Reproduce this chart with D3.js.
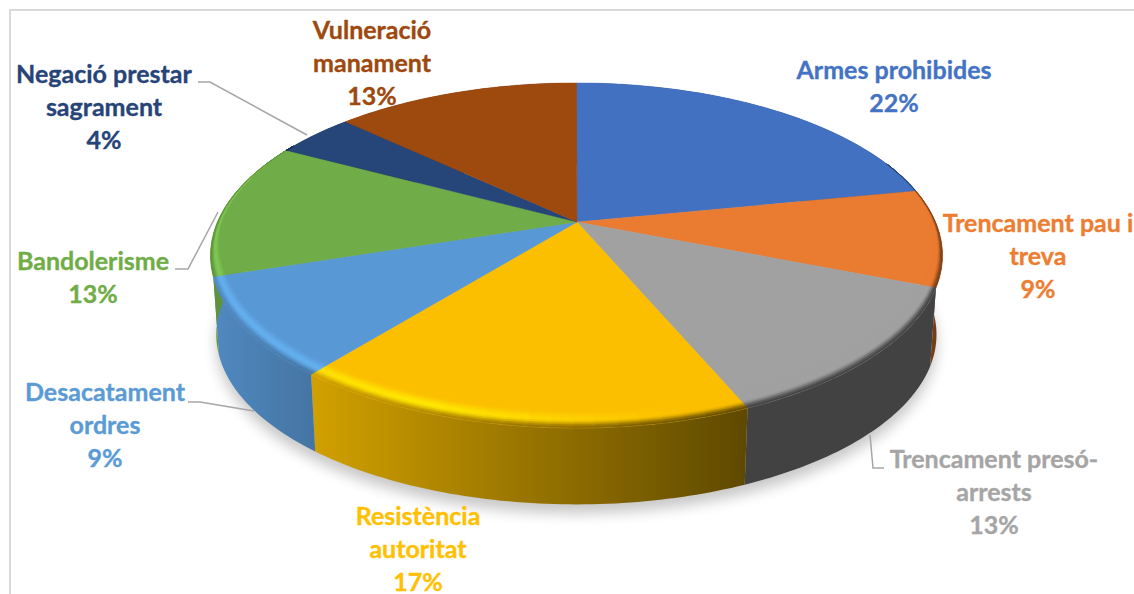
<!DOCTYPE html>
<html><head><meta charset="utf-8">
<script src="https://cdn.jsdelivr.net/npm/d3@7/dist/d3.min.js"></script>
<style>html,body{margin:0;padding:0;background:#fff;overflow:hidden}svg{display:block}</style>
</head><body><svg id="c" width="1134" height="594"></svg>
<script>
const categories = ["Armes prohibides","Trencament pau i treva","Trencament presó-arrests","Resistència autoritat","Desacatament ordres","Bandolerisme","Negació prestar sagrament","Vulneració manament"];
const values = [21.9,9.1,12.6,17.2,9.2,12.8,4.2,13];
const colors = ["#4371C2","#EA7B31","#A1A1A1","#FBBF00","#5998D5","#6FAC47","#264478","#9E480E"];
const labelColors = ["#4472C4","#ED7D31","#A5A5A5","#FFC000","#5B9BD5","#70AD47","#264478","#9E480E"];
const highlights = ["#4371C2","#EA7B31","#A1A1A1","#FFE800","#68B6F6","#84D05A","#264478","#9E480E"];
const labelLines = [["Armes prohibides"],["Trencament pau i","treva"],["Trencament presó-","arrests"],["Resistència","autoritat"],["Desacatament","ordres"],["Bandolerisme"],["Negació prestar","sagrament"],["Vulneració","manament"]];

// layout (not data)
const labelAnchor = [[894,79],[1038,232],[994,468],[418,525],[105,401],[93,270],[104,83],[372,39]];
const leaders = [null,null,[[870,435],[873,468],[884,468]],null,[[188,402],[200,402],[254,411]],[[175,269],[188,269],[218,212]],[[198,82],[210,82],[307,135]],null];
const P = {cx:576.5, R:359, apexY:222, a:123, c:-0.194, vx:570, vy:5200, k:0.984};

const svg = d3.select("#c");
const defs = svg.append("defs");
defs.append("filter").attr("id","sh").attr("x","-10%").attr("y","-10%").attr("width","120%").attr("height","130%")
  .append("feGaussianBlur").attr("stdDeviation",7);
defs.append("filter").attr("id","soft").attr("filterUnits","userSpaceOnUse").attr("x",0).attr("y",0).attr("width",1134).attr("height",594)
  .append("feGaussianBlur").attr("stdDeviation",0.7);

svg.append("rect").attr("x",10).attr("y",10).attr("width",1300).attr("height",800)
  .attr("fill","#fff").attr("stroke","#d9d9d9").attr("stroke-width",2);

const rad = Math.PI/180;
function topPt(th,r=1){
  const s=Math.sin(th)*r, t=-Math.cos(th)*r, d=1+P.c*t;
  return [P.cx+P.R*s/d,(P.a*t+P.apexY)/d];
}
function botPt(th,r=1){
  const [x,y]=topPt(th,r);
  return [P.vx+(x-P.vx)*P.k,P.vy-(P.vy-y)*P.k];
}
const line=d3.line();
const pie=d3.pie().sort(null).value(d=>d)(values);
const sweep=(a,b,step)=>{const n=Math.max(1,Math.ceil((b-a)/step));return d3.range(n+1).map(i=>a+(b-a)*i/n);};
const clamp=d3.scaleLinear().clamp(true);
const smooth=u=>u*u*(3-2*u);

// wall shade by screen x, per slice
const wallShade=[
  {x:[200,950],f:[0.5,0.5]}, {x:[200,950],f:[0.5,0.5]}, {x:[200,950],f:[0.41,0.41]},
  {x:[316,745],f:[0.83,0.38]},
  {x:[215,316],f:[0.9,0.76]},
  {x:[200,950],f:[0.85,0.85]}, {x:[200,950],f:[0.6,0.6]}, {x:[200,950],f:[0.6,0.6]}
];
function shadeCol(i,f){const c=d3.rgb(colors[i]);return d3.rgb(c.r*f,c.g*f,c.b*f)+"";}
function wallCol(i,x){
  const s=wallShade[i];
  return shadeCol(i,d3.scaleLinear().domain(s.x).range(s.f).clamp(true)(x));
}
wallShade.forEach((s,i)=>{
  const lg=defs.append("linearGradient").attr("id","w"+i).attr("gradientUnits","userSpaceOnUse")
    .attr("x1",s.x[0]).attr("x2",s.x[1]).attr("y1",0).attr("y2",0);
  lg.append("stop").attr("offset",0).attr("stop-color",shadeCol(i,s.f[0]));
  lg.append("stop").attr("offset",1).attr("stop-color",shadeCol(i,s.f[1]));
});
// shadow
svg.append("path").attr("filter","url(#sh)").attr("fill","#000").attr("opacity",0.22)
 .attr("d",line(sweep(0,2*Math.PI,0.05).map(th=>{const [x,y]=botPt(th);return [x,y+9];}))+"Z");

const g=svg.append("g").attr("filter","url(#soft)");
// walls
pie.forEach((d,i)=>{
  const a=sweep(d.startAngle,d.endAngle,1*rad);
  const p=a.map(th=>topPt(th)).concat(a.slice().reverse().map(th=>botPt(th)));
  g.append("path").attr("d",line(p)+"Z").attr("fill","url(#w"+i+")");
});
// top faces
pie.forEach((d,i)=>{
  const pts=[[P.cx+0.5,P.apexY]].concat(sweep(d.startAngle,d.endAngle,0.02).map(th=>topPt(th)));
  g.append("path").attr("d",line(pts)+"Z").attr("fill",colors[i]).attr("stroke",colors[i]).attr("stroke-width",0.4);
});
// bevel
const N=10;
function bw(th){
  const deg=th/rad;
  const front=Math.max(0,-Math.cos(th));
  const side=clamp.domain([70,100])(deg)*(1-clamp.domain([255,300])(deg));
  return side*(0.02+0.052*front);
}
function hiAmt(th){
  const deg=th/rad;
  return clamp.domain([165,200])(deg)*(1-0.2*clamp.domain([200,220])(deg))*(1-clamp.domain([285,300])(deg));
}
pie.forEach((d,i)=>{
  if(d.endAngle<68*rad||d.startAngle>302*rad) return;
  const a=sweep(Math.max(d.startAngle,68*rad),Math.min(d.endAngle,302*rad),3*rad);
  for(let j=0;j<a.length-1;j++){
    const th=(a[j]+a[j+1])/2, w0=bw(a[j]), w1=bw(a[j+1]);
    if(w0===0&&w1===0) continue;
    const wall=wallCol(i,topPt(th)[0]);
    for(let k=0;k<N;k++){
      const u0=k/N,u1=(k+1)/N,u=(u0+u1)/2;
      const r=(w,q)=>1-w*(1-q);
      const p=[topPt(a[j],r(w0,u0)),topPt(a[j+1],r(w1,u0)),topPt(a[j+1],r(w1,u1)),topPt(a[j],r(w0,u1))];
      const hi=d3.interpolateRgb(colors[i],highlights[i])(hiAmt(th));
      const col=u<0.55?d3.interpolateRgb(colors[i],hi)(smooth(u/0.55)):d3.interpolateRgb(hi,wall)(smooth((u-0.55)/0.45));
      g.append("path").attr("d",line(p)+"Z").attr("fill",col).attr("stroke",col).attr("stroke-width",0.5);
    }
  }
});
// leaders
leaders.forEach(l=>{ if(l) svg.append("path").attr("d",line(l)).attr("fill","none").attr("stroke","#a6a6a6").attr("stroke-width",1.5);});
// labels
labelLines.forEach((lines,i)=>{
  const t=svg.append("text").attr("text-anchor","middle").attr("font-family","Lato, sans-serif").attr("font-weight",700)
    .attr("font-size",25).attr("fill",labelColors[i]).attr("stroke",labelColors[i]).attr("stroke-width",0.35);
  lines.concat([d3.format(".0f")(values[i])+"%"]).forEach((s,j)=>{
    t.append("tspan").attr("x",labelAnchor[i][0]).attr("y",labelAnchor[i][1]+j*33).text(s);
  });
});
</script></body></html>
